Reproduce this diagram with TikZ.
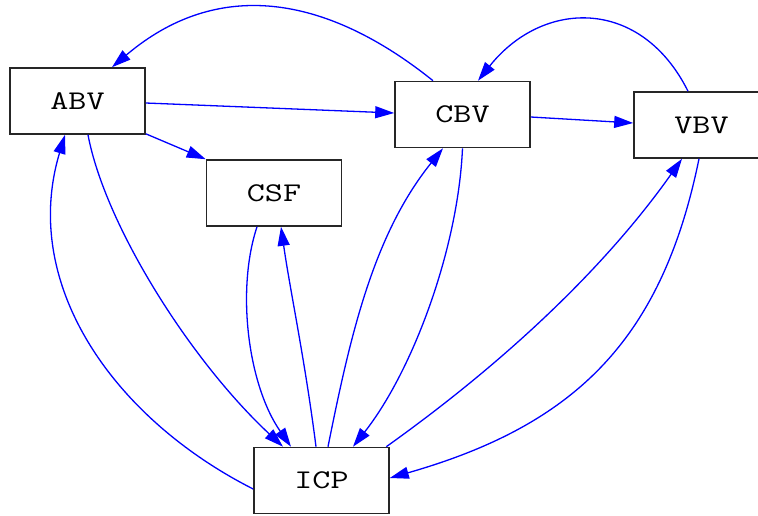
\documentclass[tikz,border=0pt]{standalone}
\usepackage{graphicx}
\usepackage{fontspec}
\setmonofont{Latin Modern Mono}
\usetikzlibrary{arrows.meta}
\begin{document}
\begin{tikzpicture}[x=1pt,y=-1pt,
  stbox/.style={draw=black!85,line width=1.6pt,fill=white,minimum width=135pt,minimum height=66pt,inner sep=0pt,
    font=\ttfamily\fontsize{27}{27}\selectfont,text height=16.5pt,text depth=0pt},
  conn/.style={draw=blue,line width=1.3pt,-{Triangle[length=19pt,width=12pt]}}]
\useasboundingbox (0,0) rectangle (758,515);
\clip (0,0) rectangle (758,515);
\node[stbox] (abv) at (77.5,101) {\scalebox{1.3}[1]{ABV}};
\node[stbox] (csf) at (274,193) {\scalebox{1.3}[1]{CSF}};
\node[stbox] (cbv) at (462.5,114.5) {\scalebox{1.3}[1]{CBV}};
\node[stbox] (vbv) at (701.5,125) {\scalebox{1.3}[1]{VBV}};
\node[stbox] (icp) at (321.5,480.5) {\scalebox{1.3}[1]{ICP}};
\draw[conn] ([yshift=-2pt]abv.east) -- ([yshift=1.5pt]cbv.west);
\draw[conn] ([yshift=1pt]abv.south east) -- (csf.north west);
\draw[conn] ([xshift=10.5pt]abv.south) .. controls (105,225) and (190,360) .. ([xshift=-38.5pt]icp.north);
\draw[conn] ([xshift=-29.5pt]cbv.north) .. controls (325,-6) and (217,-22) .. ([xshift=34.5pt]abv.north);
\draw[conn] ([yshift=-2.5pt]cbv.east) -- ([yshift=2pt]vbv.west);
\draw[conn] ([xshift=-13.5pt]vbv.north) .. controls (641,-3) and (543,-1) .. ([xshift=15.5pt]cbv.north);
\draw[conn] (cbv.south) .. controls (458,250) and (412,372) .. ([xshift=31.5pt]icp.north);
\draw[conn] ([xshift=6.5pt]icp.north) .. controls (350,337) and (373,235) .. ([xshift=-19.5pt]cbv.south);
\draw[conn] ([xshift=-17pt]csf.south) .. controls (236,290) and (248,385) .. ([xshift=-30.5pt]icp.north);
\draw[conn] ([xshift=-5.5pt]icp.north) .. controls (305,360) and (290,290) .. ([xshift=7pt]csf.south);
\draw[conn] ([yshift=-8.5pt]icp.west) .. controls (113,418) and (20,284) .. ([xshift=-12.5pt]abv.south);
\draw[conn] ([xshift=-3.5pt]icp.north east) .. controls (508,360) and (607,265) .. ([xshift=-19.5pt]vbv.south);
\draw[conn] ([xshift=-2.5pt]vbv.south) .. controls (662,340) and (575,425) .. ([yshift=2.5pt]icp.east);
\end{tikzpicture}
\end{document}
